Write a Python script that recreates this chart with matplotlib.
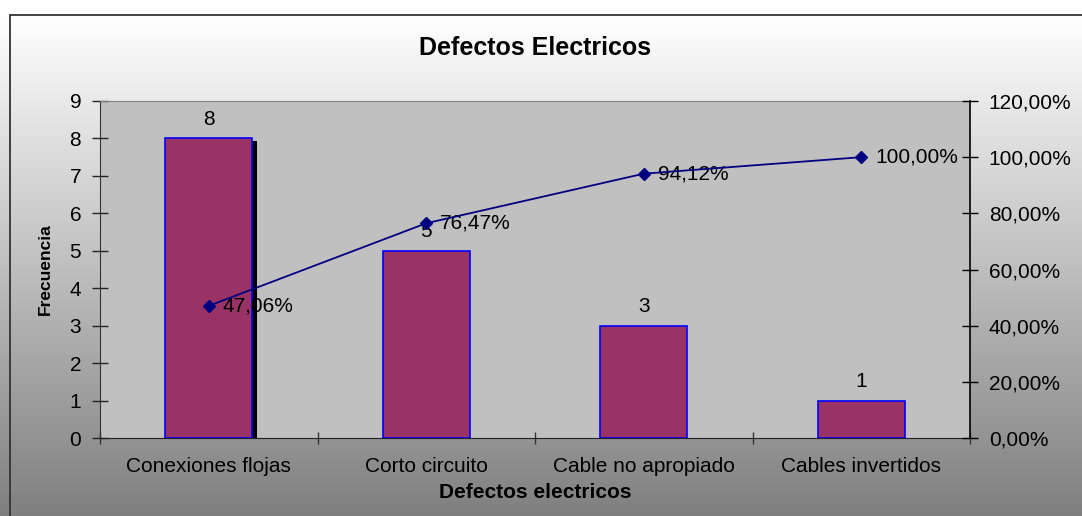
import numpy as np
import matplotlib
matplotlib.use("Agg")
import matplotlib.pyplot as plt
from matplotlib.patches import Rectangle
from matplotlib.ticker import FuncFormatter, FixedLocator

categories = ["Conexiones flojas", "Corto circuito", "Cable no apropiado", "Cables invertidos"]
frecuencia = [8, 5, 3, 1]
acumulado = [47.06, 76.47, 94.12, 100.00]
left_ticks = list(range(0, 10))
right_ticks = [0, 20, 40, 60, 80, 100, 120]

plt.rcParams['font.family'] = ['Liberation Sans', 'DejaVu Sans']

W, H = 1082, 516
fig = plt.figure(figsize=(W / 100, H / 100), dpi=100)
fig.patch.set_facecolor('white')

# gradient background
bg = fig.add_axes([0, 0, 1, 1], zorder=-10)
bg.set_axis_off()
grad = np.linspace(1.0, 0.5, 256).reshape(-1, 1)
top_frac = 1 - 15 / H
bg.imshow(np.dstack([grad, grad, grad]), aspect='auto', extent=[0, 1, 0, top_frac],
          origin='upper', interpolation='bilinear')
bg.set_xlim(0, 1)
bg.set_ylim(0, 1)
bg.add_patch(Rectangle((10 / W, -0.05), 1.2, top_frac + 0.05, fill=False,
                       edgecolor='#333333', linewidth=1.3))

ax = fig.add_axes([100 / W, 1 - 438 / H, 870 / W, 337 / H])
ax.set_facecolor('#C0C0C0')
x = np.arange(len(categories))
bars = ax.bar(x, frecuencia, width=0.4, color='#993366', edgecolor='#0000FF', linewidth=1.2, zorder=3)

# dark shadow strip on first bar edge
b0 = bars[0]
ax.add_patch(Rectangle((b0.get_x() + b0.get_width(), 0), 0.022, b0.get_height() - 0.08,
                       facecolor='black', edgecolor='none', zorder=2.9))

FS = 15
ax.set_xlim(-0.5, len(categories) - 0.5)
ax.set_ylim(0, 9)
ax.yaxis.set_major_locator(FixedLocator(left_ticks))
ax.set_xticks(x)
ax.set_xticklabels(categories, fontsize=FS)
ax.tick_params(axis='x', which='major', length=0, pad=14)
ax.set_xticks(np.arange(-0.5, len(categories)), minor=True)
ax.tick_params(axis='x', which='minor', direction='inout', length=8, width=1, color='#333333')
ax.tick_params(axis='y', direction='inout', length=11, width=1, labelsize=FS, pad=8, color='#222222')
ax.spines['top'].set_color('#808080')
ax.spines['left'].set_color('#333333')
ax.spines['bottom'].set_color('#222222')
ax.spines['right'].set_visible(False)

for b, v in zip(bars, frecuencia):
    ax.annotate(str(v), (b.get_x() + b.get_width() / 2, v), xytext=(0, 7),
                textcoords='offset points', ha='center', va='bottom', fontsize=FS)

ax.set_xlabel('Defectos electricos', fontsize=15, fontweight='bold', labelpad=5)
ax.set_ylabel('Frecuencia', fontsize=12.5, fontweight='bold', labelpad=12)
ax.set_title('Defectos Electricos', fontsize=18, fontweight='bold', pad=33)

ax2 = ax.twinx()
ax2.set_ylim(0, 120)
ax2.yaxis.set_major_locator(FixedLocator(right_ticks))
ax2.yaxis.set_major_formatter(FuncFormatter(lambda v, p: f"{v:.2f}".replace('.', ',') + '%'))
ax2.tick_params(axis='y', direction='inout', length=11, width=1, labelsize=FS, pad=8, color='black')
ax2.spines['right'].set_color('black')
ax2.spines['right'].set_linewidth(1.2)
for s in ['top', 'left', 'bottom']:
    ax2.spines[s].set_visible(False)
ax2.plot(x, acumulado, color='#000080', linewidth=1.3, marker='D', markersize=6, zorder=5)
for xi, v in zip(x, acumulado):
    ax2.annotate(f"{v:.2f}".replace('.', ',') + '%', (xi, v), xytext=(10, 0),
                 textcoords='offset points', ha='left', va='center', fontsize=FS)

fig.savefig('out.png', dpi=100)
